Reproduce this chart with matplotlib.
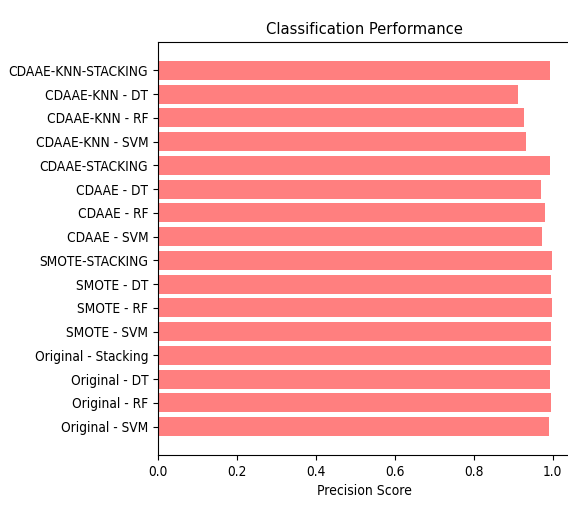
import matplotlib
matplotlib.use("Agg")
import matplotlib.pyplot as plt

plt.rcParams['font.family'] = ['DejaVu Sans']
plt.rcParams['font.stretch'] = 'condensed'

# models, bottom to top
models = [
    'Original - SVM', 'Original - RF', 'Original - DT', 'Original - Stacking',
    'SMOTE - SVM', 'SMOTE - RF', 'SMOTE - DT', 'SMOTE-STACKING',
    'CDAAE - SVM', 'CDAAE - RF', 'CDAAE - DT', 'CDAAE-STACKING',
    'CDAAE-KNN - SVM', 'CDAAE-KNN - RF', 'CDAAE-KNN - DT', 'CDAAE-KNN-STACKING',
]
precision = [
    0.990, 0.996, 0.993, 0.996,
    0.996, 0.998, 0.996, 0.998,
    0.974, 0.980, 0.970, 0.993,
    0.933, 0.927, 0.912, 0.993,
]

fig = plt.figure(figsize=(5.68, 5.15), dpi=100)
ax = fig.add_axes([0.278, 0.1165, 0.728, 0.8015])

ax.barh(models, precision, color='red', alpha=0.5)
ax.set_xlabel('Precision Score', fontsize=10)
ax.set_title('Classification Performance', fontsize=11.8)
ax.tick_params(labelsize=9.8)
# the right edge of the axes runs off the canvas
ax.spines['right'].set_visible(False)

fig.savefig('out.png', dpi=100)
